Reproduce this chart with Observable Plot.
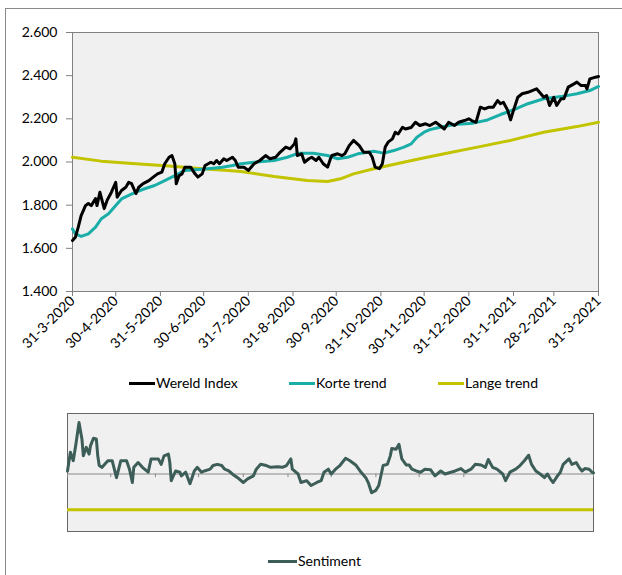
<!DOCTYPE html>
<html>
<head>
<meta charset="utf-8">
<script src="https://cdn.jsdelivr.net/npm/d3@7"></script>
<script src="https://cdn.jsdelivr.net/npm/@observablehq/plot@0.6"></script>
<style>
  html, body { margin: 0; padding: 0; background: #fff; }
  #wrap { position: relative; width: 622px; height: 575px; overflow: hidden; font-family: Lato, sans-serif; }
  #border { position: absolute; left: 5px; top: 8px; width: 700px; height: 700px; border-left: 1px solid #8a8a8a; border-top: 1px solid #8a8a8a; }
  .abs { position: absolute; left: 0; }
  .legend { position: absolute; font-size: 14px; color: #000; line-height: 16px; display: flex; align-items: center; white-space: nowrap; }
  .sw { display: inline-block; width: 26px; height: 3px; margin-right: 1px; }
</style>
</head>
<body>
<div id="wrap">
  <div id="border"></div>
  <div id="topChart" class="abs" style="top:0"></div>
  <div class="legend" style="left:129px; top:375px"><span class="sw" style="background:#000"></span>Wereld Index</div>
  <div class="legend" style="left:289px; top:375px"><span class="sw" style="background:#1aaea8"></span>Korte trend</div>
  <div class="legend" style="left:438px; top:375px"><span class="sw" style="background:#c2c400"></span>Lange trend</div>
  <div id="bottomChart" class="abs" style="top:400px"></div>
  <div class="legend" style="left:268px; top:553px"><span class="sw" style="background:#3d5e58; width:29px"></span>Sentiment</div>
</div>
<script>
// ---- data (days after 31-3-2020) ----
const tickLabels = ["31-3-2020","30-4-2020","31-5-2020","30-6-2020","31-7-2020","31-8-2020","30-9-2020","31-10-2020","30-11-2020","31-12-2020","31-1-2021","28-2-2021","31-3-2021"];
const yTicks = [1400, 1600, 1800, 2000, 2200, 2400, 2600];

const indexDays = [0,2,4,6,9,11,13,16,17,19,22,24,27,30,31,34,37,39,41,44,46,49,53,56,59,62,64,67,69,71,72,74,76,78,82,85,87,90,92,96,98,100,102,105,107,111,113,115,119,122,126,130,134,137,141,144,148,151,154,155,156,159,161,164,166,169,171,174,177,179,180,184,187,189,192,195,199,202,206,208,210,213,215,217,219,222,224,226,229,231,235,238,241,245,248,252,255,258,261,265,268,272,275,277,280,283,286,289,292,295,297,299,302,304,306,309,312,316,319,322,325,327,329,331,334,336,339,341,344,348,350,353,356,357,359,363,365];
const indexValues = [1636,1651,1698,1752,1798,1808,1798,1831,1798,1860,1784,1822,1860,1906,1837,1868,1883,1906,1900,1854,1883,1900,1914,1930,1945,1953,1992,2022,2030,1992,1899,1937,1945,1976,1976,1945,1930,1945,1984,1999,1992,2007,1992,2015,2007,2022,2007,1976,1976,1961,1992,2007,2030,2015,2022,2045,2069,2061,2084,2107,2030,2038,1999,2015,2022,2007,2022,1992,1976,2015,2030,2038,2030,2038,2076,2100,2076,2045,2045,2022,1976,1969,1992,2069,2092,2107,2138,2130,2161,2153,2160,2184,2169,2177,2169,2184,2169,2153,2184,2169,2184,2192,2200,2192,2184,2254,2246,2254,2254,2285,2270,2277,2239,2195,2239,2300,2316,2323,2331,2339,2316,2300,2308,2262,2300,2262,2293,2293,2347,2362,2370,2354,2354,2339,2385,2393,2396];

const korteDays = [0,2,6,11,16,20,25,30,34,39,44,50,57,64,71,78,85,94,104,111,117,126,140,149,157,167,177,184,191,198,205,209,216,223,230,235,239,244,248,255,265,278,288,297,306,316,327,339,350,359,365];
const korteValues = [1690,1667,1655,1667,1698,1737,1760,1798,1829,1845,1860,1876,1891,1914,1937,1961,1964,1969,1976,1984,1992,1999,2007,2022,2041,2041,2030,2015,2022,2038,2045,2050,2041,2053,2069,2084,2115,2138,2150,2161,2174,2180,2195,2220,2242,2270,2293,2303,2316,2331,2350];

const langeDays = [0,20,44,67,90,108,117,140,163,177,186,195,209,225,241,258,281,304,327,350,365];
const langeValues = [2022,2004,1992,1981,1969,1961,1956,1933,1914,1910,1922,1945,1969,1992,2015,2038,2069,2100,2138,2164,2184];

const sentimentDays = [0,2,4,6,8,10,11,13,15,16,18,20,21,22,24,28,31,34,37,41,43,45,46,49,52,56,58,63,65,67,70,71,72,75,78,79,82,85,88,90,93,95,99,101,104,107,109,112,116,118,122,125,129,131,134,138,141,146,149,152,155,156,160,162,166,169,173,176,178,181,183,186,189,193,196,200,203,207,209,211,214,216,218,219,222,224,225,228,230,232,235,237,239,242,245,248,252,255,259,262,266,269,273,276,280,283,287,290,292,295,298,302,304,307,311,314,317,320,322,325,328,331,333,335,337,340,342,344,348,350,353,355,357,359,362,364,365];
const sentimentValues = [0.05,0.36,0.22,0.52,0.85,0.58,0.30,0.44,0.33,0.47,0.59,0.58,0.30,0.14,0.11,0.22,0.22,-0.06,0.22,0.22,0.08,-0.14,0.11,0.19,0.11,0.03,0.25,0.25,0.16,0.30,0.33,0.19,-0.11,0.05,0.03,-0.03,0.03,-0.16,0.05,0.11,0.03,0.05,0.08,0.14,0.16,0.14,0.08,0.05,-0.03,-0.06,-0.14,-0.08,-0.03,0.08,0.16,0.14,0.11,0.12,0.11,0.14,0.25,0.08,0.0,-0.14,-0.11,-0.19,-0.14,-0.11,0.03,0.08,0.0,0.08,0.14,0.26,0.22,0.15,0.05,-0.06,-0.16,-0.31,-0.27,-0.19,0.03,0.14,0.16,0.30,0.42,0.41,0.49,0.25,0.15,0.15,0.08,0.05,0.03,0.08,0.07,-0.03,0.05,0.0,0.03,0.05,0.09,0.03,0.08,0.16,0.15,0.11,0.24,0.11,0.08,0.0,-0.11,0.03,0.08,0.14,0.22,0.31,0.16,0.05,0.0,-0.06,0.0,-0.08,-0.14,-0.03,0.03,0.16,0.25,0.16,0.19,0.11,0.05,0.09,0.08,0.03,0.02];
const sentimentThreshold = -0.59;

// ---- build ----
const parseDate = d3.utcParse("%d-%m-%Y");
const tickDates = tickLabels.map(parseDate);
const startDate = tickDates[0], endDate = tickDates[tickDates.length - 1];
const toDate = d => d3.utcDay.offset(startDate, d);
const fmtDate = d => `${d.getUTCDate()}-${d.getUTCMonth() + 1}-${d.getUTCFullYear()}`;
const fmtNum = v => d3.format(",")(v).replace(/,/g, ".");

const zip = (days, vals, series) => days.map((d, i) => ({date: toDate(d), value: vals[i], series}));
const indexData = zip(indexDays, indexValues, "Wereld Index");
const korteData = zip(korteDays, korteValues, "Korte trend");
const langeData = zip(langeDays, langeValues, "Lange trend");
const sentData = zip(sentimentDays, sentimentValues, "Sentiment");

const colors = {black: "#000000", teal: "#1aaea8", yellow: "#c2c400", sent: "#3d5e58"};

const topPlot = Plot.plot({
  width: 622, height: 351,
  marginLeft: 72, marginRight: 24, marginTop: 32, marginBottom: 60,
  style: {fontFamily: "Lato, sans-serif", fontSize: "14px", color: "#000", background: "transparent", overflow: "visible"},
  x: {type: "utc", domain: [startDate, endDate]},
  y: {domain: [1400, 2600]},
  marks: [
    Plot.frame({fill: "#f0f0f0", stroke: "#808080"}),
    Plot.axisY({ticks: yTicks, tickFormat: fmtNum, tickSize: 6, tickPadding: 9, stroke: "#808080", fill: "#000", label: null}),
    Plot.axisX({ticks: tickDates, tickFormat: fmtDate, tickRotate: -45, tickSize: 5, tickPadding: 2, stroke: "#808080", fill: "#000", label: null}),
    Plot.line(langeData, {x: "date", y: "value", stroke: colors.yellow, strokeWidth: 3}),
    Plot.line(korteData, {x: "date", y: "value", stroke: colors.teal, strokeWidth: 3}),
    Plot.line(indexData, {x: "date", y: "value", stroke: colors.black, strokeWidth: 3})
  ]
});
document.getElementById("topChart").append(topPlot);

const bottomPlot = Plot.plot({
  width: 622, height: 135,
  marginLeft: 67, marginRight: 29, marginTop: 13, marginBottom: 4,
  style: {background: "transparent", overflow: "visible"},
  x: {type: "utc", domain: [startDate, endDate], axis: null},
  y: {domain: [-0.95, 1.0], axis: null},
  marks: [
    Plot.frame({fill: "#f0f0f0", stroke: "#666"}),
    Plot.ruleY([0], {stroke: "#8a8a8a", strokeWidth: 1}),
    Plot.ruleX(tickDates, {y1: 0, y2: -0.06, stroke: "#8a8a8a"}),
    Plot.ruleY([sentimentThreshold], {stroke: colors.yellow, strokeWidth: 3}),
    Plot.line(sentData, {x: "date", y: "value", stroke: colors.sent, strokeWidth: 3})
  ]
});
document.getElementById("bottomChart").append(bottomPlot);
</script>
</body>
</html>
